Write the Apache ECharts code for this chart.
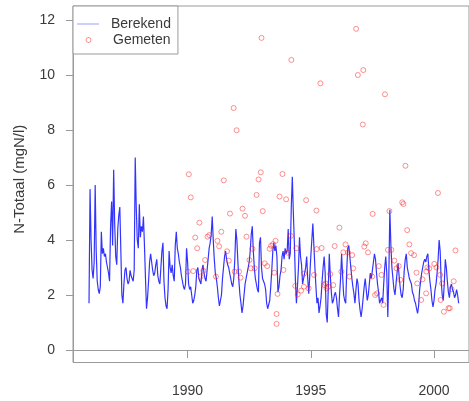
<!DOCTYPE html>
<html>
<head>
<meta charset="utf-8">
<script src="https://cdn.jsdelivr.net/npm/echarts@6/dist/echarts.min.js"></script>
<style>
  html, body { margin: 0; padding: 0; background: #ffffff; }
  #chart { width: 469px; height: 401px; }
</style>
</head>
<body>
<div id="chart"></div>
<script>
// Berekend: modelled N-totaal (mgN/l), 24 values per year starting at 1986.0
const berekendStart = 1986;
const berekendPerYear = 24;
const berekend = [
  1.7, 5.85, 4.0, 2.9, 2.6, 3.2, 6.0, 3.6, 2.5, 2.2,
  2.05, 2.3, 4.3, 3.5, 3.7, 3.4, 3.5, 3.2, 3.0, 2.8,
  2.5, 4.5, 5.4, 3.8, 6.55, 4.6, 3.4, 3.1, 4.4, 4.9,
  5.2, 3.6, 2.0, 1.7, 2.4, 2.9, 3.0, 2.6, 2.4, 2.5,
  2.9, 2.7, 2.6, 2.5, 2.9, 7.0, 5.2, 4.0, 3.7, 5.3,
  4.1, 4.5, 4.3, 4.85, 3.8, 2.6, 1.5, 1.9, 2.5, 3.2,
  3.5, 3.2, 2.9, 2.7, 2.8, 3.1, 3.3, 2.7, 2.5, 2.4,
  3.0, 3.6, 3.9, 2.5, 1.9, 1.6, 1.5, 2.2, 3.6, 3.0,
  2.8, 3.1, 2.7, 2.5, 3.8, 4.3, 3.7, 3.5, 3.2, 3.0,
  2.7, 2.5, 2.3, 2.2, 2.4, 3.7, 3.2, 2.4, 2.2, 2.3,
  2.0, 1.7, 1.8, 2.0, 2.3, 2.9, 3.0, 2.6, 2.5, 2.4,
  2.9, 3.1, 2.8, 2.6, 2.5, 2.9, 3.3, 3.7, 3.9, 4.2,
  4.85, 4.0, 3.3, 2.8, 2.6, 2.3, 1.9, 1.6, 1.55, 2.0,
  2.6, 3.0, 3.4, 3.6, 3.3, 3.1, 3.0, 2.8, 2.6, 2.4,
  2.3, 2.6, 3.3, 4.4, 4.0, 3.2, 2.5, 2.0, 1.7, 1.35,
  1.6, 2.0, 2.4, 2.6, 2.8, 3.0, 3.2, 3.6, 4.2, 4.5,
  3.6, 3.0, 2.6, 2.4, 2.2, 2.1, 3.9, 4.1, 3.0, 2.6,
  2.5, 2.4, 2.2, 1.7, 1.5, 1.45, 1.8, 2.3, 2.9, 3.6,
  3.9, 3.6, 3.8, 3.4, 2.1, 2.3, 2.7, 2.9, 3.4, 3.6,
  3.3, 3.7, 3.5, 3.6, 4.4, 3.3, 3.5, 5.2, 6.3, 5.0,
  3.9, 2.55, 1.7, 2.3, 3.0, 4.1, 3.4, 3.1, 2.4, 2.6,
  2.8, 3.0, 3.4, 2.6, 2.05, 2.7, 3.4, 4.0, 4.6, 3.8,
  3.0, 2.3, 1.7, 1.9, 1.35, 1.6, 1.9, 2.5, 3.0, 3.4,
  2.8, 1.3, 1.0, 2.2, 3.5, 2.7, 2.1, 1.7, 1.8, 2.0,
  2.1, 1.9, 1.5, 1.2, 2.0, 2.6, 3.5, 2.7, 2.0, 1.8,
  1.7, 2.9, 3.7, 3.8, 3.4, 3.0, 2.6, 2.3, 2.05, 1.7,
  2.2, 2.6, 2.4, 1.8, 1.45, 1.2, 1.5, 1.9, 2.3, 2.6,
  2.2, 1.8, 2.0, 2.4, 2.8, 2.6, 2.9, 3.2, 3.5, 3.3,
  2.8, 2.4, 2.1, 1.7, 1.8, 1.9, 1.7, 2.4, 3.0, 3.4,
  2.8, 1.2, 2.7, 5.1, 3.8, 3.0, 2.6, 2.2, 2.0, 2.4,
  2.8, 3.15, 2.7, 2.3, 2.0, 1.9, 2.2, 2.9, 3.3, 3.5,
  3.0, 2.8, 2.6, 2.5, 2.4, 2.1, 2.0, 1.8, 1.7, 1.5,
  1.33, 1.6, 2.2, 2.5, 2.8, 3.0, 3.2, 3.3, 3.2, 3.4,
  3.5, 2.9, 2.5, 2.2, 1.8, 1.57, 1.8, 2.2, 2.4, 2.8,
  3.3, 4.0, 3.6, 2.5, 2.0, 1.8, 2.4, 3.3, 3.0, 2.5,
  2.1, 1.9, 2.3, 2.4, 2.2, 2.1, 1.9, 2.0, 2.2, 2.0,
  1.7
];

// Gemeten: measured samples, decimal year and concentration (mgN/l)
const gemetenJaar = [
  1990.01, 1990.05, 1990.13, 1990.23, 1990.31, 1990.39, 1990.48, 1990.53, 1990.64, 1990.71, 1990.81, 1990.88,
  1991.15, 1991.21, 1991.28, 1991.37, 1991.47, 1991.60, 1991.67, 1991.72, 1991.87, 1991.91, 1991.99,
  1992.09, 1992.15, 1992.23, 1992.33, 1992.39, 1992.51, 1992.57, 1992.63, 1992.72, 1992.80, 1992.88, 1992.97,
  1993.00, 1993.05, 1993.13, 1993.23, 1993.33, 1993.39, 1993.47, 1993.52, 1993.57, 1993.61, 1993.61, 1993.65, 1993.73, 1993.85, 1993.89,
  1994.00, 1994.05, 1994.19, 1994.21, 1994.37, 1994.41, 1994.47, 1994.61, 1994.72, 1994.73, 1994.81, 1994.91,
  1995.13, 1995.23, 1995.24, 1995.39, 1995.44, 1995.55, 1995.60, 1995.64, 1995.71, 1995.79, 1995.91, 1995.97,
  1996.16, 1996.24, 1996.32, 1996.41, 1996.51, 1996.57, 1996.68, 1996.72, 1996.84, 1996.91,
  1997.11, 1997.13, 1997.17, 1997.23, 1997.32, 1997.49, 1997.51, 1997.61, 1997.69, 1997.76, 1997.87, 1997.95,
  1998.01, 1998.13, 1998.19, 1998.27, 1998.39, 1998.48, 1998.57, 1998.63, 1998.71, 1998.76, 1998.84, 1998.91,
  1999.00, 1999.07, 1999.19, 1999.29, 1999.32, 1999.48, 1999.53, 1999.68, 1999.69, 1999.73, 1999.81,
  2000.01, 2000.10, 2000.16, 2000.25, 2000.27, 2000.33, 2000.40, 2000.59, 2000.64, 2000.71, 2000.80, 2000.87
];
const gemetenWaarde = [
  2.85, 6.39, 5.55, 2.87, 4.09, 3.70, 4.63, 2.67, 2.88, 3.27, 4.12, 4.18,
  2.67, 3.97, 3.77, 4.30, 6.17, 3.59, 3.25, 4.96, 8.80, 2.85, 7.99,
  2.85, 2.63, 5.14, 4.88, 4.12, 3.27, 2.97, 3.68, 2.97, 5.64, 6.20, 6.46,
  11.35, 5.05, 3.15, 3.05, 3.68, 3.79, 3.85, 2.81, 3.97, 1.31, 0.95, 2.04, 5.58, 6.40, 2.91,
  5.48, 3.54, 4.15, 10.55, 2.33, 3.70, 2.02, 2.16, 2.30, 2.78, 5.45, 2.24,
  2.73, 5.07, 3.67, 9.70, 3.71, 2.36, 2.42, 2.24, 2.30, 2.76, 2.36, 3.78,
  4.45, 2.85, 3.55, 3.84, 3.55, 2.67, 3.45, 2.97, 11.68, 10.00,
  8.20, 10.18, 3.76, 3.88, 3.55, 2.67, 4.95, 2.00, 2.06, 3.05, 2.73, 1.64,
  9.30, 3.64, 5.05, 3.64, 3.25, 2.97, 3.05, 2.55, 5.37, 5.31, 6.70, 4.36,
  3.84, 3.52, 3.45, 2.81, 2.42, 1.82, 2.57, 2.06, 2.85, 3.00, 2.97,
  3.13, 3.00, 5.71, 2.73, 1.82, 2.42, 1.39, 1.52, 1.52, 2.21, 2.50, 3.62
];

const xTicks = [1990, 1995, 2000];
const yTicks = [0, 2, 4, 6, 8, 10, 12];

const FONT = 'Liberation Sans, Arial, Helvetica, sans-serif';
const AXIS_GREY = '#9a9a9a';
const TEXT_GREY = '#3a3a3a';
const LINE_BLUE = 'rgba(0, 0, 255, 0.8)';
const LEGEND_BLUE = 'rgba(60, 60, 255, 0.5)';
const POINT_RED = 'rgba(255, 30, 30, 0.62)';

const berekendData = berekend.map((v, i) => [berekendStart + i / berekendPerYear, v]);
const gemetenData = gemetenJaar.map((t, i) => [t, gemetenWaarde[i]]);

const chart = echarts.init(document.getElementById('chart'), null, { renderer: 'canvas' });

chart.setOption({
  animation: false,
  backgroundColor: '#ffffff',
  textStyle: { fontFamily: FONT },
  grid: {
    left: 73, top: 6, right: -5, bottom: 38.5,
    show: true, borderColor: AXIS_GREY, borderWidth: 1, backgroundColor: 'transparent'
  },
  legend: [
    {
      data: [{ name: 'Berekend', icon: 'rect', itemStyle: { color: LEGEND_BLUE } }],
      left: 73, top: 6,
      orient: 'vertical',
      padding: [11, 7, 23, 4],
      itemWidth: 22, itemHeight: 1,
      borderColor: AXIS_GREY, borderWidth: 1,
      backgroundColor: '#ffffff',
      textStyle: { color: TEXT_GREY, fontSize: 14, fontFamily: FONT, padding: [0, 0, 0, 7] }
    },
    {
      data: [{
        name: 'Gemeten', icon: 'circle',
        itemStyle: { color: 'rgba(0,0,0,0)', borderColor: POINT_RED, borderWidth: 1 }
      }],
      left: 85.5, top: 33,
      orient: 'vertical',
      padding: 0,
      itemWidth: 5, itemHeight: 5,
      textStyle: { color: TEXT_GREY, fontSize: 14, fontFamily: FONT, padding: [0, 0, 0, 17] }
    }
  ],
  xAxis: {
    type: 'value',
    min: 1985.35, max: 2001.42,
    axisLine: { show: true, lineStyle: { color: AXIS_GREY, width: 1 } },
    axisTick: { show: true, inside: false, length: 8, customValues: xTicks, lineStyle: { color: AXIS_GREY } },
    axisLabel: { customValues: xTicks, margin: 22, color: TEXT_GREY, fontSize: 14, fontFamily: FONT, formatter: v => String(v) },
    splitLine: { show: false }
  },
  yAxis: {
    type: 'value',
    min: -0.455, max: 12.51,
    name: 'N-Totaal (mgN/l)',
    nameLocation: 'middle',
    nameRotate: 90,
    nameGap: 46,
    nameTextStyle: { color: TEXT_GREY, fontSize: 15, fontFamily: FONT, padding: [0, 0, 0, 10] },
    axisLine: { show: true, lineStyle: { color: AXIS_GREY, width: 1 } },
    axisTick: { show: true, inside: false, length: 7, customValues: yTicks, lineStyle: { color: AXIS_GREY } },
    axisLabel: { customValues: yTicks, margin: 18, color: TEXT_GREY, fontSize: 14, fontFamily: FONT, formatter: v => String(v) },
    splitLine: { show: false }
  },
  series: [
    {
      name: 'Berekend',
      type: 'line',
      data: berekendData,
      symbol: 'none',
      lineStyle: { color: LINE_BLUE, width: 1.2 },
      itemStyle: { color: LINE_BLUE },
      z: 2
    },
    {
      name: 'Gemeten',
      type: 'scatter',
      data: gemetenData,
      symbol: 'circle',
      symbolSize: 5,
      itemStyle: { color: 'rgba(0,0,0,0)', borderColor: POINT_RED, borderWidth: 1 },
      z: 3
    }
  ]
});
</script>
</body>
</html>
